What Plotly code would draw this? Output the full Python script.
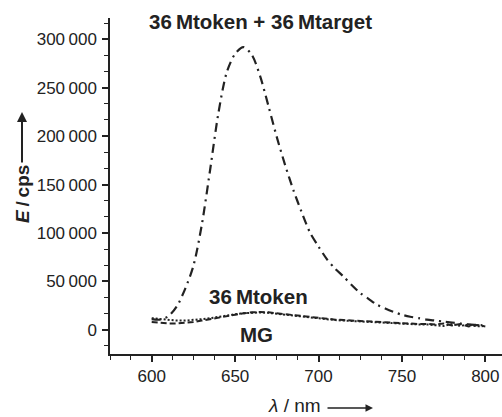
import plotly.graph_objects as go

wavelength = [600, 605, 610, 615, 620, 625, 630, 635, 640, 645, 650, 655, 660, 665, 670,
              675, 680, 685, 690, 695, 700, 705, 710, 715, 720, 725, 730, 735, 740, 745,
              750, 755, 760, 765, 770, 775, 780, 785, 790, 795, 800]

token_target = [11000, 10500, 14000, 24000, 42000, 66000, 108000, 165000, 224000, 266000,
                285000, 292000, 284000, 262000, 231000, 199000, 170000, 144000, 121000,
                100000, 86000, 73000, 63000, 55000, 46000, 38000, 32000, 26000, 22000,
                18500, 15500, 13500, 12000, 10500, 9500, 8500, 7500, 6500, 5500, 5000, 4500]

token = [8000, 7000, 6500, 6500, 7000, 8000, 9500, 11000, 13000, 14500, 16000, 17000, 18000,
         18500, 18000, 17000, 16000, 15000, 14000, 13000, 12000, 11000, 10500, 10000, 9500,
         9000, 8500, 8000, 7500, 7000, 7000, 6500, 6000, 6000, 5500, 6500, 4500, 6000, 3500,
         5000, 3500]

mg = [12000, 11000, 10000, 9500, 9500, 10000, 11000, 12000, 13500, 15000, 16000, 17000,
      17500, 18000, 17500, 16500, 15500, 14500, 13500, 12500, 11500, 10500, 10000, 9500,
      9000, 8500, 8000, 7500, 7000, 7000, 6500, 6000, 5500, 5500, 5000, 4000, 6000, 4000,
      5500, 3500, 4000]

y_ticks = [0, 50000, 100000, 150000, 200000, 250000, 300000]
y_labels = ["0", "50\u2009000", "100\u2009000", "150\u2009000", "200\u2009000",
            "250\u2009000", "300\u2009000"]
x_ticks = [600, 650, 700, 750, 800]
x_labels = ["600", "650", "700", "750", "800"]

ink = "#222222"
font = "Liberation Sans, Arial, sans-serif"

L, T, R, B = 110, 18, 502, 354  # plot area in window pixels
W, H = 502, 417


def px(x):
    return (x - L) / (R - L)


def py(y):
    return (B - y) / (B - T)


fig = go.Figure()
fig.add_trace(go.Scatter(x=wavelength, y=mg, mode="lines",
                         line=dict(color=ink, width=2, dash="2px,2px")))
fig.add_trace(go.Scatter(x=wavelength, y=token, mode="lines",
                         line=dict(color=ink, width=2, dash="6px,3px")))
fig.add_trace(go.Scatter(x=wavelength, y=token_target, mode="lines",
                         line=dict(color=ink, width=2.2, dash="9px,5px,2px,5px",
                                   shape="spline", smoothing=0.8)))

fig.update_layout(
    width=W, height=H, autosize=False,
    margin=dict(l=L, r=W - R, t=T, b=H - B, pad=0),
    paper_bgcolor="white", plot_bgcolor="white",
    showlegend=False,
    font=dict(family=font, color=ink, size=17),
)

fig.update_xaxes(
    range=[575, 810], showgrid=False, zeroline=False,
    showline=True, linecolor=ink, linewidth=1.5,
    ticks="outside", ticklen=6, tickwidth=1.5, tickcolor=ink,
    tickmode="array", tickvals=x_ticks, ticktext=x_labels,
    tickfont=dict(size=17, family=font, color=ink),
    minor=dict(tickmode="linear", tick0=0, dtick=12.5, ticks="outside",
               ticklen=4, tickwidth=1.2, tickcolor=ink),
)
fig.update_yaxes(
    range=[-25000, 322000], showgrid=False, zeroline=False,
    showline=True, linecolor=ink, linewidth=1.5,
    ticks="outside", ticklen=6, tickwidth=1.5, tickcolor=ink,
    tickmode="array", tickvals=y_ticks, ticktext=y_labels,
    tickfont=dict(size=17, family=font, color=ink),
    ticklabelstandoff=2,
    minor=dict(tickmode="linear", tick0=0, dtick=50000 / 3, ticks="outside",
               ticklen=4, tickwidth=1.2, tickcolor=ink),
)

bold = dict(family=font, size=20.5, color=ink)
fig.add_annotation(xref="paper", yref="paper", x=px(260), y=py(22),
                   text="<b>36\u2009Mtoken + 36\u2009Mtarget</b>", showarrow=False,
                   font=bold, xanchor="center", yanchor="middle")
fig.add_annotation(xref="paper", yref="paper", x=px(258), y=py(296),
                   text="<b>36\u2009Mtoken</b>", showarrow=False,
                   font=bold, xanchor="center", yanchor="middle")
fig.add_annotation(xref="paper", yref="paper", x=px(256), y=py(334),
                   text="<b>MG</b>", showarrow=False,
                   font=bold, xanchor="center", yanchor="middle")

# y-axis title and arrow
fig.add_annotation(xref="paper", yref="paper", x=px(22), y=py(194),
                   text="<b><i>E</i>\u2009/\u2009cps</b>", textangle=-90, showarrow=False,
                   font=dict(family=font, size=19, color=ink),
                   xanchor="center", yanchor="middle")
fig.add_annotation(xref="paper", yref="paper", x=px(22), y=py(112),
                   ax=0, ay=52, axref="pixel", ayref="pixel", text="", showarrow=True,
                   arrowhead=2, arrowsize=1, arrowwidth=2, arrowcolor=ink, standoff=0)

# x-axis title and arrow
fig.add_annotation(xref="paper", yref="paper", x=px(294), y=py(406),
                   text="<i>λ</i> / nm", showarrow=False,
                   font=dict(family=font, size=19, color=ink),
                   xanchor="center", yanchor="middle")
fig.add_annotation(xref="paper", yref="paper", x=px(373), y=py(408),
                   ax=-47, ay=0, axref="pixel", ayref="pixel", text="", showarrow=True,
                   arrowhead=2, arrowsize=1, arrowwidth=1.5, arrowcolor=ink, standoff=0)

fig.write_html("out.html",
               config={"displayModeBar": False},
               post_script="document.body.style.margin='0';"
                           "document.body.style.overflow='hidden';")
